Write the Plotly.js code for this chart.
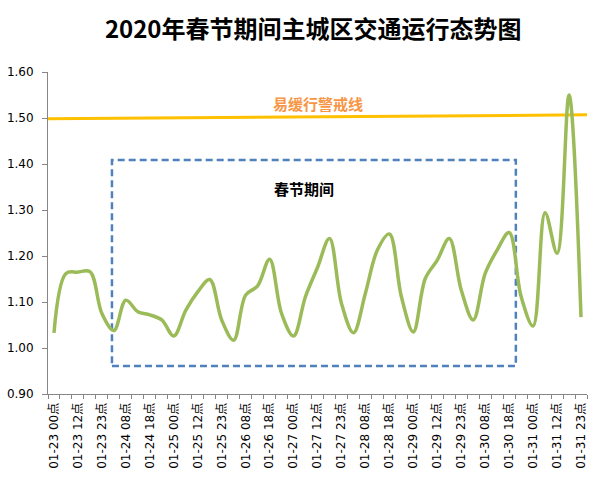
<!DOCTYPE html>
<html>
<head>
<meta charset="utf-8">
<script src="https://cdn.plot.ly/plotly-3.0.1.min.js"></script>
<style>html,body{margin:0;padding:0;background:#fff;}#chart{width:600px;height:482px;}</style>
</head>
<body>
<div id="chart"></div>
<script>
// Tick labels shown on the axis (every other sample)
const tickLabels = [
  "01-23 00点","01-23 12点","01-23 23点","01-24 08点","01-24 18点","01-25 00点",
  "01-25 12点","01-25 23点","01-26 08点","01-26 18点","01-27 00点","01-27 12点",
  "01-27 23点","01-28 08点","01-28 18点","01-29 00点","01-29 12点","01-29 23点",
  "01-30 08点","01-30 18点","01-31 00点","01-31 12点","01-31 23点"
];
// Traffic index samples (45 points)
const trafficIndex = [
  1.033, 1.162, 1.165, 1.166, 1.075, 1.038, 1.104, 1.079, 1.072, 1.061,
  1.026, 1.082, 1.122, 1.149, 1.061, 1.017, 1.115, 1.135, 1.193, 1.075,
  1.026, 1.112, 1.175, 1.238, 1.097, 1.033, 1.119, 1.213, 1.248, 1.112,
  1.035, 1.151, 1.191, 1.238, 1.126, 1.061, 1.162, 1.213, 1.251, 1.112,
  1.048, 1.294, 1.206, 1.550, 1.067
];
const warnLabel = "易缓行警戒线";
const periodLabel = "春节期间";
const chartTitle = "2020年春节期间主城区交通运行态势图";

const xIdx = trafficIndex.map((_, i) => i);
const tickVals = tickLabels.map((_, k) => 2 * k);

const trace = {
  x: xIdx,
  y: trafficIndex,
  type: 'scatter',
  mode: 'lines',
  line: {color: '#9BBB59', width: 3.5, shape: 'spline', smoothing: 1},
  hoverinfo: 'y'
};

const layout = {
  width: 600, height: 482,
  margin: {l: 48, r: 13, t: 72, b: 88},
  paper_bgcolor: '#fff', plot_bgcolor: '#fff',
  showlegend: false,
  title: {
    text: '<b>' + chartTitle + '</b>',
    x: 0.522, xanchor: 'center', y: 0.938, yanchor: 'middle',
    font: {family: 'Noto Sans CJK SC, sans-serif', size: 24, color: '#000'}
  },
  xaxis: {
    range: [-0.5, 44.5],
    tickmode: 'array', tickvals: tickVals, ticktext: tickLabels,
    tickangle: -90,
    ticks: '',
    ticklabelstandoff: 3,
    showline: true, linecolor: '#868686', linewidth: 1,
    showgrid: false, zeroline: false,
    tickfont: {family: 'DejaVu Sans, Noto Sans CJK SC, sans-serif', size: 12, color: '#000'},
    minor: {tickmode: 'linear', tick0: -0.5, dtick: 1, ticks: 'outside', ticklen: 4, tickcolor: '#868686', showgrid: false},
    fixedrange: true
  },
  yaxis: {
    range: [0.9, 1.6],
    tickmode: 'linear', tick0: 0.9, dtick: 0.1, tickformat: '.2f',
    ticks: 'outside', ticklen: 5, tickcolor: '#868686',
    showline: true, linecolor: '#868686', linewidth: 1,
    showgrid: false, zeroline: false,
    ticklabelstandoff: 6,
    tickfont: {family: 'DejaVu Sans, sans-serif', size: 12, color: '#000'},
    fixedrange: true
  },
  shapes: [
    {type: 'line', xref: 'x', yref: 'y', x0: -0.5, x1: 45.0, y0: 1.4985, y1: 1.507,
     line: {color: '#FFC000', width: 3}, layer: 'below'},
    {type: 'rect', xref: 'x', yref: 'y', x0: 4.84, x1: 38.56, y0: 0.961, y1: 1.4087,
     line: {color: '#4F81BD', width: 2.5, dash: '7px,4px'}, fillcolor: 'rgba(0,0,0,0)', layer: 'below'}
  ],
  annotations: [
    {text: '<b>' + warnLabel + '</b>', xref: 'paper', yref: 'paper',
     x: (318 - 48) / 539, y: (394 - 104) / 322, xanchor: 'center', yanchor: 'middle',
     showarrow: false, font: {family: 'Noto Sans CJK SC, sans-serif', size: 15, color: '#F79646'}},
    {text: '<b>' + periodLabel + '</b>', xref: 'paper', yref: 'paper',
     x: (304 - 48) / 539, y: (394 - 188) / 322, xanchor: 'center', yanchor: 'middle',
     showarrow: false, font: {family: 'Noto Sans CJK SC, sans-serif', size: 15, color: '#000'}}
  ]
};

Plotly.newPlot('chart', [trace], layout, {displayModeBar: false, staticPlot: true});
</script>
</body>
</html>
